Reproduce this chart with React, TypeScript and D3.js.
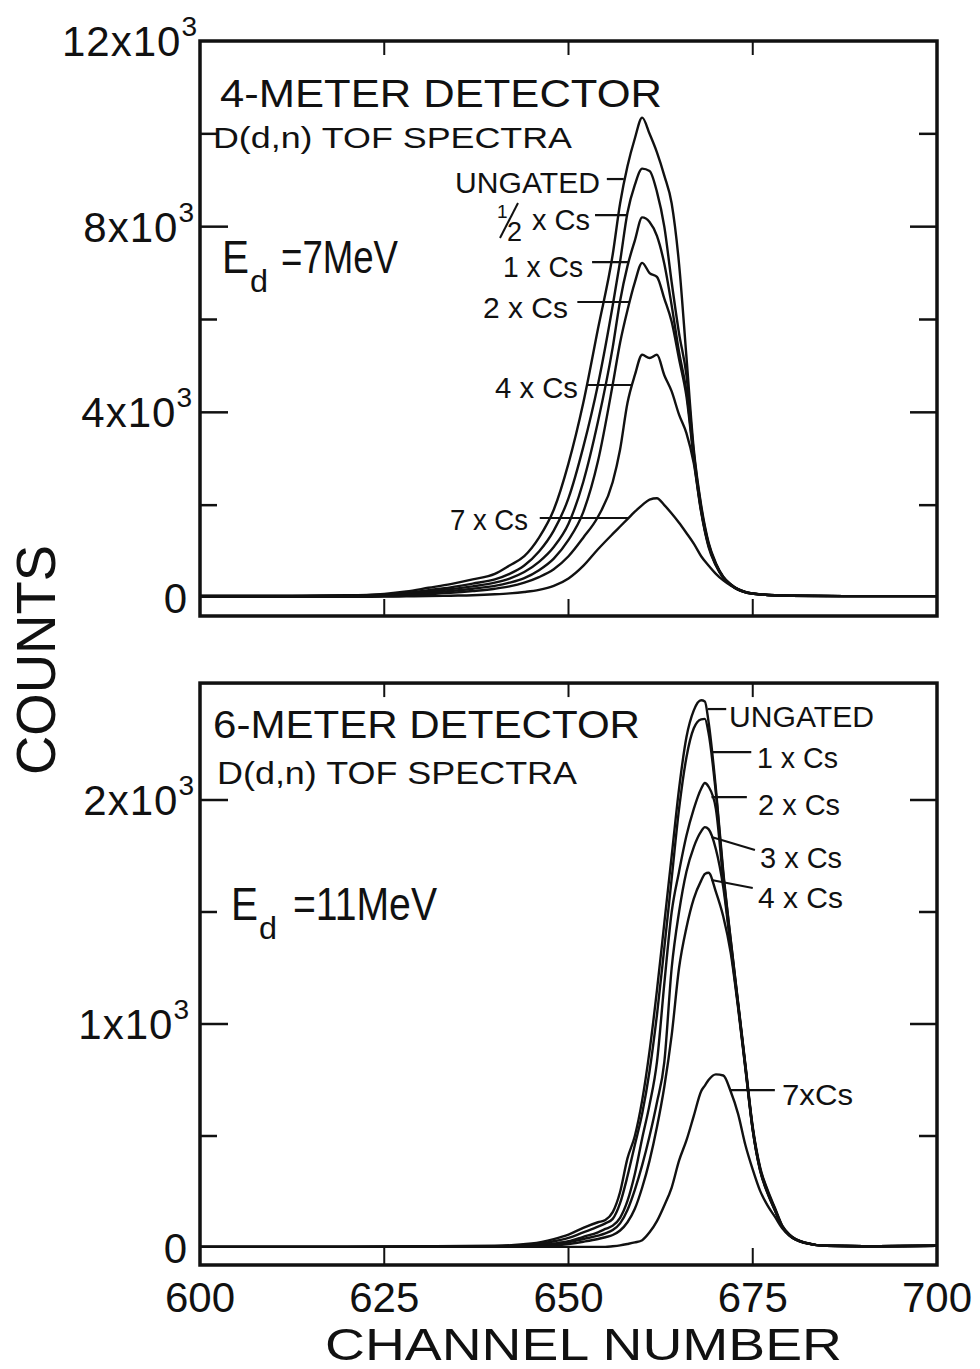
import React from 'react';
import * as d3 from 'd3';

// ---------------- DATA ----------------
// Top panel: 4-meter detector, Ed = 7 MeV
const TOP_CHANNELS = [600, 610, 620, 625, 628, 631, 634, 637, 640, 642, 644, 646, 648, 650, 652, 654, 656, 657, 658, 659, 660, 661, 662, 663, 664, 665, 666, 667, 668, 669, 670, 671, 672, 673, 674, 676, 680, 690, 700];
const TOP_UNGATED = [50, 50, 60, 90, 140, 220, 300, 400, 520, 700, 900, 1300, 1900, 2900, 4200, 5800, 7400, 8500, 9300, 9900, 10350, 10000, 9600, 9100, 8500, 7200, 5200, 3200, 2000, 1200, 750, 460, 300, 190, 130, 80, 50, 40, 40];
const TOP_HALF_CS = [45, 45, 50, 75, 110, 170, 230, 310, 400, 520, 700, 1000, 1450, 2150, 3250, 4600, 6300, 7250, 8300, 8900, 9250, 9200, 8750, 8000, 6800, 5700, 4800, 3120, 1950, 1170, 730, 450, 295, 185, 128, 78, 50, 40, 40];
const TOP_1_CS = [40, 40, 45, 60, 90, 140, 190, 250, 330, 420, 560, 780, 1100, 1600, 2500, 3800, 5400, 6400, 7150, 7700, 8200, 8100, 7800, 7200, 6300, 5300, 4450, 3050, 1900, 1150, 720, 445, 290, 182, 126, 77, 50, 40, 40];
const TOP_2_CS = [35, 35, 40, 50, 70, 110, 150, 200, 260, 330, 430, 600, 850, 1250, 1850, 2950, 4600, 5500, 6200, 6800, 7220, 7000, 6920, 6450, 5950, 5150, 4350, 3000, 1880, 1130, 710, 440, 285, 180, 124, 76, 50, 40, 40];
const TOP_4_CS = [30, 30, 35, 40, 55, 80, 110, 150, 200, 250, 330, 450, 620, 900, 1300, 1750, 2500, 3200, 4200, 4800, 5240, 5170, 5240, 4800, 4450, 3950, 3550, 2900, 1850, 1100, 700, 435, 280, 178, 122, 75, 50, 40, 40];
const TOP_7_CS = [25, 25, 25, 30, 35, 40, 50, 60, 80, 100, 130, 175, 260, 420, 690, 1050, 1380, 1540, 1700, 1860, 2000, 2120, 2150, 2000, 1820, 1620, 1400, 1170, 900, 700, 520, 380, 270, 190, 130, 80, 50, 40, 40];

// Bottom panel: 6-meter detector, Ed = 11 MeV
const BOT_CHANNELS = [600, 620, 640, 645, 648, 650, 652, 654, 655, 656, 657, 658, 659, 660, 661, 662, 663, 664, 665, 666, 667, 668, 668.5, 669, 670, 671, 672, 673, 674, 675, 676, 677, 678, 679, 680, 682, 685, 690, 700];
const BOT_UNGATED = [5, 5, 10, 20, 40, 60, 90, 115, 125, 160, 250, 400, 500, 660, 880, 1150, 1450, 1750, 2050, 2280, 2400, 2445, 2440, 2350, 2050, 1680, 1380, 1100, 820, 540, 360, 260, 180, 100, 60, 25, 10, 8, 10];
const BOT_1_CS = [5, 5, 8, 15, 30, 45, 70, 95, 110, 130, 200, 320, 460, 600, 790, 1040, 1340, 1650, 1960, 2190, 2320, 2360, 2362, 2300, 2030, 1670, 1375, 1095, 815, 535, 355, 255, 175, 98, 58, 24, 10, 8, 10];
const BOT_2_CS = [5, 5, 6, 10, 20, 30, 50, 70, 85, 100, 135, 210, 330, 490, 640, 830, 1180, 1500, 1680, 1840, 1960, 2050, 2076, 2060, 1960, 1640, 1360, 1090, 810, 530, 350, 250, 172, 96, 57, 24, 10, 8, 10];
const BOT_3_CS = [5, 5, 5, 8, 15, 25, 40, 55, 65, 80, 110, 170, 260, 370, 500, 650, 830, 1250, 1500, 1680, 1790, 1860, 1879, 1870, 1780, 1610, 1345, 1085, 805, 528, 348, 248, 170, 95, 56, 24, 10, 8, 10];
const BOT_4_CS = [5, 5, 5, 5, 10, 18, 28, 40, 48, 58, 78, 115, 175, 270, 390, 540, 720, 950, 1250, 1430, 1560, 1640, 1670, 1675, 1590, 1480, 1320, 1075, 800, 525, 345, 245, 168, 94, 55, 23, 10, 8, 10];
const BOT_7_CS = [5, 5, 5, 5, 5, 5, 5, 5, 5, 8, 12, 18, 25, 35, 70, 120, 190, 270, 390, 480, 590, 700, 725, 750, 775, 770, 700, 600, 460, 350, 255, 190, 140, 88, 54, 23, 10, 8, 10];

// Ticks
const X_TICK_LABELS = [600, 625, 650, 675, 700];
const X_INNER_TICKS = [625, 650, 675];
const TOP_Y_MAJOR = [4000, 8000];
const TOP_Y_MINOR = [2000, 6000, 10000];
const TOP_Y_LABELS = [
  { v: 0, text: '0', exp: '' },
  { v: 4000, text: '4x10', exp: '3' },
  { v: 8000, text: '8x10', exp: '3' },
  { v: 12000, text: '12x10', exp: '3' },
];
const BOT_Y_MAJOR = [1000, 2000];
const BOT_Y_MINOR = [500, 1500];
const BOT_Y_LABELS = [
  { v: 0, text: '0', exp: '' },
  { v: 1000, text: '1x10', exp: '3' },
  { v: 2000, text: '2x10', exp: '3' },
];

const FONT = '"Liberation Sans", Arial, sans-serif';

type Scale = d3.ScaleLinear<number, number>;

function Curve({ ch, values, x, y }: { ch: number[]; values: number[]; x: Scale; y: Scale }) {
  const line = d3
    .line<number>()
    .x((_, i) => x(ch[i]))
    .y((d) => y(d))
    .curve(d3.curveMonotoneX);
  return <path d={line(values) || ''} fill="none" stroke="#111" strokeWidth={2.4} strokeLinejoin="round" />;
}

function Frame({ x, top, bottom }: { x: Scale; top: number; bottom: number }) {
  const l = x(600);
  const r = x(700);
  return (
    <g>
      <rect x={l} y={top} width={r - l} height={bottom - top} fill="none" stroke="#111" strokeWidth={3.5} />
      {X_INNER_TICKS.map((t) => (
        <g key={t}>
          <line x1={x(t)} x2={x(t)} y1={bottom} y2={bottom - 17} stroke="#111" strokeWidth={2} />
          <line x1={x(t)} x2={x(t)} y1={top} y2={top + 14} stroke="#111" strokeWidth={2} />
        </g>
      ))}
    </g>
  );
}

function YTicks({ x, y, major, minor }: { x: Scale; y: Scale; major: number[]; minor: number[] }) {
  const l = x(600);
  const r = x(700);
  return (
    <g stroke="#111" strokeWidth={2.5}>
      {major.map((v) => (
        <g key={'M' + v}>
          <line x1={l} x2={l + 28} y1={y(v)} y2={y(v)} />
          <line x1={r} x2={r - 27} y1={y(v)} y2={y(v)} />
        </g>
      ))}
      {minor.map((v) => (
        <g key={'m' + v}>
          <line x1={l} x2={l + 17} y1={y(v)} y2={y(v)} />
          <line x1={r} x2={r - 18} y1={y(v)} y2={y(v)} />
        </g>
      ))}
    </g>
  );
}

function YLabels({ y, labels, ends }: { y: Scale; labels: { v: number; text: string; exp: string }[]; ends: number[] }) {
  return (
    <g fontFamily={FONT} fill="#111">
      {labels.map((lb, i) => (
        <text key={lb.v} x={ends[i]} y={y(lb.v) + 15} fontSize={42} textAnchor="end" letterSpacing={1}>
          {lb.text}
          {lb.exp ? (
            <tspan fontSize={28} dy={-20}>
              {lb.exp}
            </tspan>
          ) : null}
        </text>
      ))}
    </g>
  );
}

function Leader({ x, y, a, b }: { x: Scale; y: Scale; a: [number, number]; b: [number, number] }) {
  return <line x1={x(a[0])} y1={y(a[1])} x2={x(b[0])} y2={y(b[1])} stroke="#111" strokeWidth={2.2} />;
}

function Label({ tx, ty, text, len, anchor = 'start', size = 29 }: { tx: number; ty: number; text: string; len?: number; anchor?: string; size?: number }) {
  return (
    <text
      x={tx}
      y={ty}
      fontFamily={FONT}
      fontSize={size}
      fill="#111"
      textAnchor={anchor as any}
      textLength={len}
      lengthAdjust={len ? 'spacingAndGlyphs' : undefined}
    >
      {text}
    </text>
  );
}

export default function App() {
  const x = d3.scaleLinear().domain([600, 700]).range([200, 937]);
  const yTop = d3.scaleLinear().domain([0, 12000]).range([598, 41]);
  const yBot = d3.scaleLinear().domain([0, 2000]).range([1248, 800]);

  const topFrameTop = yTop(12000);
  const topFrameBottom = 616;
  const botFrameTop = yBot(2522);
  const botFrameBottom = 1265;

  return (
    <svg
      width={980}
      height={1369}
      viewBox="0 0 980 1369"
      style={{ position: 'absolute', left: 0, top: 0, background: '#fff' }}
    >
      <rect x={0} y={0} width={980} height={1369} fill="#fff" />

      {/* ---------- TOP PANEL ---------- */}
      <Frame x={x} top={topFrameTop} bottom={topFrameBottom} />
      <YTicks x={x} y={yTop} major={TOP_Y_MAJOR} minor={TOP_Y_MINOR} />
      <YLabels y={yTop} labels={TOP_Y_LABELS} ends={[188, 193, 195, 198]} />
      {[TOP_UNGATED, TOP_HALF_CS, TOP_1_CS, TOP_2_CS, TOP_4_CS, TOP_7_CS].map((s, i) => (
        <Curve key={i} ch={TOP_CHANNELS} values={s} x={x} y={yTop} />
      ))}

      <Label tx={220} ty={107} text="4-METER DETECTOR" size={39} len={442} />
      <Label tx={213} ty={148} text="D(d,n) TOF SPECTRA" size={30} len={359} />
      <Label tx={222} ty={273} text="E" size={46} len={27} />
      <Label tx={250} ty={292} text="d" size={32} len={18} />
      <Label tx={281} ty={273} text="=7MeV" size={46} len={117} />

      {/* curve labels, top */}
      <Label tx={600} ty={193} text="UNGATED" anchor="end" len={145} />
      <Leader x={x} y={yTop} a={[655.2, 9026]} b={[657.5, 9026]} />
      <text x={497} y={218} fontFamily={FONT} fontSize={19} fill="#111">1</text>
      <line x1={500} y1={238} x2={518} y2={203} stroke="#111" strokeWidth={2} />
      <text x={507} y={241} fontFamily={FONT} fontSize={27} fill="#111">2</text>
      <Label tx={590} ty={230} text="x Cs" anchor="end" len={58} />
      <Leader x={x} y={yTop} a={[653.6, 8250]} b={[657.95, 8250]} />
      <Label tx={583} ty={277} text="1 x Cs" anchor="end" len={80} />
      <Leader x={x} y={yTop} a={[653.2, 7238]} b={[658.15, 7238]} />
      <Label tx={568} ty={318} text="2 x Cs" anchor="end" len={85} />
      <Leader x={x} y={yTop} a={[651.2, 6377]} b={[658.3, 6377]} />
      <Label tx={578} ty={398} text="4 x Cs" anchor="end" len={83} />
      <Leader x={x} y={yTop} a={[652.5, 4589]} b={[658.7, 4589]} />
      <Label tx={528} ty={530} text="7 x Cs" anchor="end" len={78} />
      <Leader x={x} y={yTop} a={[646.1, 1723]} b={[658.1, 1723]} />

      {/* ---------- BOTTOM PANEL ---------- */}
      <Frame x={x} top={botFrameTop} bottom={botFrameBottom} />
      <YTicks x={x} y={yBot} major={BOT_Y_MAJOR} minor={BOT_Y_MINOR} />
      <YLabels y={yBot} labels={BOT_Y_LABELS} ends={[188, 190, 195]} />
      {[BOT_UNGATED, BOT_1_CS, BOT_2_CS, BOT_3_CS, BOT_4_CS, BOT_7_CS].map((s, i) => (
        <Curve key={i} ch={BOT_CHANNELS} values={s} x={x} y={yBot} />
      ))}

      <Label tx={213} ty={738} text="6-METER DETECTOR" size={39} len={427} />
      <Label tx={217} ty={784} text="D(d,n) TOF SPECTRA" size={31} len={360} />
      <Label tx={231} ty={920} text="E" size={46} len={27} />
      <Label tx={259} ty={939} text="d" size={32} len={18} />
      <Label tx={293} ty={920} text="=11MeV" size={46} len={144} />

      {/* curve labels, bottom */}
      <Label tx={729} ty={727} text="UNGATED" len={145} />
      <Leader x={x} y={yBot} a={[668.9, 2406]} b={[671.4, 2406]} />
      <Label tx={757} ty={768} text="1 x Cs" len={81} />
      <Leader x={x} y={yBot} a={[669.6, 2214]} b={[674.8, 2214]} />
      <Label tx={758} ty={815} text="2 x Cs" len={82} />
      <Leader x={x} y={yBot} a={[669.4, 2013]} b={[674.2, 2013]} />
      <Label tx={760} ty={868} text="3 x Cs" len={82} />
      <Leader x={x} y={yBot} a={[669.4, 1835]} b={[675.3, 1777]} />
      <Label tx={758} ty={908} text="4 x Cs" len={85} />
      <Leader x={x} y={yBot} a={[669.4, 1643]} b={[675.0, 1607]} />
      <Label tx={782} ty={1105} text="7xCs" len={71} />
      <Leader x={x} y={yBot} a={[672.0, 705]} b={[678.0, 705]} />

      {/* ---------- AXES TEXT ---------- */}
      <g fontFamily={FONT} fill="#111">
        {X_TICK_LABELS.map((t) => (
          <text key={t} x={x(t)} y={1312} fontSize={42} textAnchor="middle">
            {t}
          </text>
        ))}
      </g>
      <Label tx={325} ty={1360} text="CHANNEL NUMBER" size={45} len={517} />
      <text
        transform="translate(55,660) rotate(-90)"
        x={0}
        y={0}
        fontFamily={FONT}
        fontSize={56}
        fill="#111"
        textAnchor="middle"
        textLength={230}
        lengthAdjust="spacingAndGlyphs"
      >
        COUNTS
      </text>
    </svg>
  );
}
